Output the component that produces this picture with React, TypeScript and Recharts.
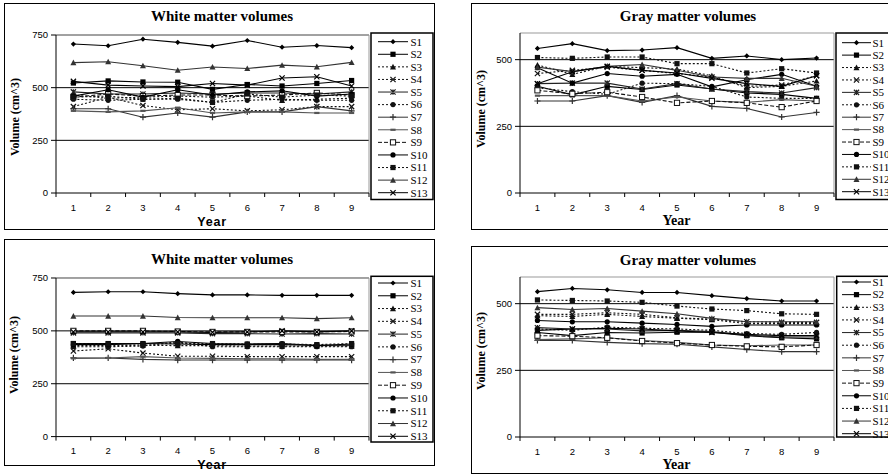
import React from 'react';
import { LineChart, Line, XAxis, YAxis, ReferenceLine } from 'recharts';

const years = [1, 2, 3, 4, 5, 6, 7, 8, 9];
const subjects = ['S1', 'S2', 'S3', 'S4', 'S5', 'S6', 'S7', 'S8', 'S9', 'S10', 'S11', 'S12', 'S13'];
const wmTicks = [0, 250, 500, 750];
const gmTicks = [0, 250, 500];

// white matter, upper panel (one row per subject, years 1..9)
const wmUpper = [
  [707, 699, 730, 715, 697, 724, 692, 700, 690],
  [522, 532, 527, 526, 492, 515, 508, 520, 534],
  [465, 450, 455, 460, 455, 460, 440, 445, 450],
  [410, 455, 415, 395, 400, 390, 395, 410, 410],
  [480, 470, 470, 475, 470, 475, 475, 470, 480],
  [445, 440, 445, 445, 430, 440, 445, 440, 440],
  [400, 400, 360, 380, 360, 385, 385, 410, 390],
  [390, 385, 390, 405, 380, 385, 385, 380, 380],
  [455, 470, 460, 465, 465, 460, 465, 475, 465],
  [460, 490, 455, 490, 465, 480, 485, 460, 470],
  [455, 460, 445, 450, 430, 470, 455, 465, 460],
  [619, 623, 604, 583, 598, 591, 607, 599, 620],
  [530, 512, 508, 505, 520, 512, 546, 552, 508],
];

// gray matter, upper panel
const gmUpper = [
  [542, 560, 534, 536, 545, 505, 514, 500, 506],
  [400, 368, 400, 388, 405, 390, 375, 370, 355],
  [480, 445, 475, 470, 465, 440, 395, 400, 420],
  [448, 460, 472, 460, 448, 435, 400, 405, 440],
  [410, 412, 412, 390, 410, 390, 380, 375, 395],
  [395, 380, 370, 412, 410, 400, 360, 355, 355],
  [345, 345, 365, 340, 365, 325, 317, 285, 302],
  [365, 365, 365, 345, 360, 345, 340, 350, 345],
  [385, 372, 378, 360, 338, 345, 338, 322, 345],
  [470, 412, 448, 438, 445, 398, 425, 445, 400],
  [508, 505, 510, 510, 485, 485, 450, 466, 450],
  [472, 455, 475, 482, 460, 435, 430, 430, 400],
  [410, 455, 475, 460, 450, 430, 410, 400, 440],
];

// white matter, lower panel
const wmLower = [
  [682, 685, 685, 676, 670, 670, 668, 668, 668],
  [440, 440, 440, 438, 435, 435, 435, 432, 432],
  [430, 430, 432, 430, 430, 428, 428, 428, 428],
  [405, 415, 395, 380, 380, 378, 378, 378, 378],
  [490, 490, 490, 490, 487, 487, 485, 487, 485],
  [425, 425, 428, 448, 425, 425, 425, 425, 425],
  [372, 372, 365, 362, 362, 362, 362, 362, 362],
  [370, 372, 378, 372, 370, 368, 368, 365, 365],
  [500, 500, 500, 497, 495, 495, 495, 495, 497],
  [435, 435, 440, 450, 440, 438, 440, 430, 438],
  [440, 438, 438, 440, 440, 438, 438, 435, 440],
  [570, 570, 570, 563, 562, 562, 562, 558, 562],
  [495, 495, 495, 495, 493, 495, 500, 495, 500],
];

// gray matter, lower panel
const gmLower = [
  [545, 557, 552, 542, 542, 530, 519, 510, 510],
  [392, 380, 392, 390, 393, 393, 380, 372, 368],
  [455, 452, 460, 452, 445, 440, 425, 425, 425],
  [460, 460, 466, 460, 447, 442, 432, 430, 430],
  [410, 405, 405, 398, 400, 395, 382, 375, 375],
  [405, 400, 412, 408, 405, 400, 388, 385, 392],
  [362, 362, 355, 350, 348, 338, 328, 320, 320],
  [365, 368, 372, 362, 355, 345, 342, 345, 345],
  [380, 378, 372, 360, 352, 345, 340, 338, 345],
  [437, 432, 432, 427, 422, 415, 420, 420, 420],
  [514, 512, 510, 505, 491, 480, 474, 462, 460],
  [485, 478, 482, 472, 462, 445, 432, 432, 432],
  [400, 405, 408, 405, 398, 392, 385, 380, 380],
];

type Shape = 'diamond' | 'square' | 'openSquare' | 'triangle' | 'x' | 'star' | 'circle' | 'plus' | 'dash';

const looks: { shape: Shape; color: string; dash?: string }[] = [
  { shape: 'diamond', color: '#000' },
  { shape: 'square', color: '#000' },
  { shape: 'triangle', color: '#111', dash: '2 2' },
  { shape: 'x', color: '#111', dash: '2 2' },
  { shape: 'star', color: '#222' },
  { shape: 'circle', color: '#111', dash: '2 2' },
  { shape: 'plus', color: '#333' },
  { shape: 'dash', color: '#555' },
  { shape: 'openSquare', color: '#111', dash: '4 2' },
  { shape: 'circle', color: '#000' },
  { shape: 'square', color: '#111', dash: '2 2' },
  { shape: 'triangle', color: '#333' },
  { shape: 'x', color: '#000' },
];

const SERIF = '"Liberation Serif", "Times New Roman", serif';
const SANS = '"Liberation Sans", Arial, sans-serif';

function toRows(values: number[][]) {
  return years.map((year, i) => {
    const row: Record<string, number> = { year };
    subjects.forEach((s, k) => {
      row[s] = values[k][i];
    });
    return row;
  });
}

function Marker({ cx, cy, shape, color }: { cx?: number; cy?: number; shape: Shape; color: string }) {
  if (cx == null || cy == null) return null;
  const s = 2.6;
  switch (shape) {
    case 'diamond':
      return <path d={`M${cx},${cy - s}L${cx + s},${cy}L${cx},${cy + s}L${cx - s},${cy}Z`} fill={color} />;
    case 'square':
      return <rect x={cx - s} y={cy - s} width={2 * s} height={2 * s} fill={color} />;
    case 'openSquare':
      return <rect x={cx - s} y={cy - s} width={2 * s} height={2 * s} fill="#fff" stroke={color} strokeWidth={1} />;
    case 'triangle':
      return <path d={`M${cx},${cy - s - 0.4}L${cx + s + 0.4},${cy + s}L${cx - s - 0.4},${cy + s}Z`} fill={color} />;
    case 'x':
      return (
        <path
          d={`M${cx - s},${cy - s}L${cx + s},${cy + s}M${cx + s},${cy - s}L${cx - s},${cy + s}`}
          stroke={color}
          strokeWidth={1.2}
        />
      );
    case 'star':
      return (
        <path
          d={`M${cx - s},${cy - s}L${cx + s},${cy + s}M${cx + s},${cy - s}L${cx - s},${cy + s}M${cx},${cy - s}L${cx},${cy + s}`}
          stroke={color}
          strokeWidth={1.2}
        />
      );
    case 'circle':
      return <circle cx={cx} cy={cy} r={s} fill={color} />;
    case 'plus':
      return (
        <path d={`M${cx - s - 0.5},${cy}L${cx + s + 0.5},${cy}M${cx},${cy - s - 0.5}L${cx},${cy + s + 0.5}`} stroke={color} strokeWidth={1.2} />
      );
    case 'dash':
      return <path d={`M${cx - s},${cy}L${cx + s},${cy}`} stroke={color} strokeWidth={2.2} />;
  }
  return null;
}

type Geo = { left: number; top: number; right: number; bottom: number };

type PanelCfg = {
  title: string;
  values: number[][];
  max: number;
  ticks: number[];
  topColor: string;
  box: Geo;
  plot: Geo;
  legend: Geo & { first: number; last: number; lineFrom: number; lineTo: number; textX: number };
  titleAt: [number, number];
  yLabelAt: [number, number];
  yearAt: [number, number];
  yearFont: string;
};

const panels: PanelCfg[] = [
  {
    title: 'White matter volumes',
    values: wmUpper,
    max: 750,
    ticks: wmTicks,
    topColor: '#444',
    box: { left: 4, top: 3, right: 435, bottom: 230 },
    plot: { left: 56, top: 34.7, right: 369, bottom: 192.7 },
    legend: { left: 371, top: 33, right: 433, bottom: 199.5, first: 41.7, last: 192.7, lineFrom: 378, lineTo: 408, textX: 410.5 },
    titleAt: [222, 15.7],
    yLabelAt: [14.5, 116.5],
    yearAt: [212, 221.5],
    yearFont: SANS,
  },
  {
    title: 'Gray matter volumes',
    values: gmUpper,
    max: 600,
    ticks: gmTicks,
    topColor: '#999',
    box: { left: 471, top: 3, right: 910, bottom: 230 },
    plot: { left: 520, top: 33.3, right: 834, bottom: 193.3 },
    legend: { left: 836, top: 33, right: 905, bottom: 199.5, first: 42.7, last: 191.7, lineFrom: 842, lineTo: 871, textX: 872.5 },
    titleAt: [688, 15.7],
    yLabelAt: [481, 108.5],
    yearAt: [676.5, 221],
    yearFont: SERIF,
  },
  {
    title: 'White matter volumes',
    values: wmLower,
    max: 750,
    ticks: wmTicks,
    topColor: '#444',
    box: { left: 4, top: 239, right: 435, bottom: 466.3 },
    plot: { left: 56, top: 277.7, right: 369, bottom: 436.3 },
    legend: { left: 371, top: 276.3, right: 433, bottom: 442, first: 283, last: 436.3, lineFrom: 378, lineTo: 408, textX: 410.5 },
    titleAt: [222, 258.7],
    yLabelAt: [13.5, 354.5],
    yearAt: [212, 464.7],
    yearFont: SANS,
  },
  {
    title: 'Gray matter volumes',
    values: gmLower,
    max: 600,
    ticks: gmTicks,
    topColor: '#999',
    box: { left: 471, top: 246.3, right: 910, bottom: 474.3 },
    plot: { left: 520, top: 277, right: 834, bottom: 437 },
    legend: { left: 836.7, top: 276.3, right: 905, bottom: 437, first: 282, last: 433.7, lineFrom: 842, lineTo: 871, textX: 872.5 },
    titleAt: [688, 259.7],
    yLabelAt: [481, 350.5],
    yearAt: [676.5, 465.3],
    yearFont: SERIF,
  },
];

function Label({
  at,
  text,
  font,
  size,
  rotate,
  spacing,
}: {
  at: [number, number];
  text: string;
  font: string;
  size: number;
  rotate?: boolean;
  spacing?: number;
}) {
  return (
    <div
      style={{
        position: 'absolute',
        left: at[0],
        top: at[1],
        transform: `translate(-50%, -50%)${rotate ? ' rotate(-90deg)' : ''}`,
        fontFamily: font,
        fontWeight: 'bold',
        fontSize: size,
        letterSpacing: spacing ?? 0,
        lineHeight: 1,
        whiteSpace: 'nowrap',
        color: '#000',
      }}
    >
      {text}
    </div>
  );
}

function Panel({ cfg }: { cfg: PanelCfg }) {
  const { box, plot, legend } = cfg;
  const plotW = plot.right - plot.left;
  const plotH = plot.bottom - plot.top;
  const step = plotW / years.length;
  const yW = 50;
  const padTop = 6;
  const axisY = padTop + plotH;
  const rows = toRows(cfg.values);
  const rowGap = (legend.last - legend.first) / (subjects.length - 1);

  const xTick = (p: any) => {
    const { x, payload } = p;
    return (
      <g>
        <line x1={x + step / 2} y1={axisY} x2={x + step / 2} y2={axisY + 4} stroke="#000" />
        {payload.value === 1 && <line x1={x - step / 2} y1={axisY} x2={x - step / 2} y2={axisY + 4} stroke="#000" />}
        <text x={x} y={axisY + 17.5} textAnchor="middle" fontSize={9.5} fontFamily={SANS} fill="#000">
          {payload.value}
        </text>
      </g>
    );
  };

  return (
    <>
      <div
        style={{
          position: 'absolute',
          left: box.left,
          top: box.top,
          width: box.right - box.left,
          height: box.bottom - box.top,
          border: '1.5px solid #000',
          boxSizing: 'border-box',
        }}
      />
      <div style={{ position: 'absolute', left: plot.left - yW, top: plot.top - padTop }}>
        <LineChart
          width={yW + plotW + 4}
          height={padTop + plotH + 30}
          data={rows}
          margin={{ top: padTop, right: 4, left: 0, bottom: 0 }}
        >
          <XAxis
            dataKey="year"
            type="number"
            domain={[0.5, 9.5]}
            ticks={years}
            interval={0}
            tickLine={false}
            tickSize={0}
            tick={xTick}
            axisLine={{ stroke: '#000' }}
            height={30}
          />
          <YAxis
            type="number"
            domain={[0, cfg.max]}
            ticks={cfg.ticks}
            interval={0}
            width={yW}
            tickSize={5}
            tickMargin={3}
            tick={{ fontSize: 9.5, fill: '#000', fontFamily: SANS }}
            tickLine={{ stroke: '#000' }}
            axisLine={{ stroke: '#000' }}
          />
          <ReferenceLine y={250} stroke="#000" />
          <ReferenceLine y={500} stroke="#000" />
          <ReferenceLine y={cfg.max} stroke={cfg.topColor} />
          <ReferenceLine x={9.5} stroke="#999" />
          {subjects.map((s, k) => (
            <Line
              key={s}
              dataKey={s}
              stroke={looks[k].color}
              strokeWidth={1.1}
              strokeDasharray={looks[k].dash}
              isAnimationActive={false}
              activeDot={false}
              dot={(p: any) => (
                <Marker key={`${s}-${p.index}`} cx={p.cx} cy={p.cy} shape={looks[k].shape} color={looks[k].color} />
              )}
            />
          ))}
        </LineChart>
      </div>
      <svg
        style={{ position: 'absolute', left: 0, top: 0, overflow: 'visible' }}
        width={888}
        height={475}
      >
        <rect
          x={legend.left}
          y={legend.top}
          width={legend.right - legend.left}
          height={legend.bottom - legend.top}
          fill="#fff"
          stroke="#000"
          strokeWidth={1.5}
        />
        {subjects.map((s, k) => {
          const y = legend.first + k * rowGap;
          const mid = (legend.lineFrom + legend.lineTo) / 2;
          return (
            <g key={s}>
              <line
                x1={legend.lineFrom}
                y1={y}
                x2={legend.lineTo}
                y2={y}
                stroke={looks[k].color}
                strokeDasharray={looks[k].dash}
              />
              <Marker cx={mid} cy={y} shape={looks[k].shape} color={looks[k].color} />
              <text x={legend.textX} y={y + 3.8} fontSize={11} fontFamily={SERIF} fill="#000">
                {s}
              </text>
            </g>
          );
        })}
      </svg>
      <Label at={cfg.titleAt} text={cfg.title} font={SERIF} size={15} />
      <Label at={cfg.yLabelAt} text="Volume (cm^3)" font={SERIF} size={12} rotate />
      {cfg.yearFont === SANS ? (
        <Label at={cfg.yearAt} text="Year" font={SANS} size={12.5} spacing={0.8} />
      ) : (
        <Label at={cfg.yearAt} text="Year" font={SERIF} size={14} />
      )}
    </>
  );
}

export default function App() {
  return (
    <div
      style={{
        position: 'fixed',
        left: 0,
        top: 0,
        width: 888,
        height: 475,
        overflow: 'hidden',
        background: '#fff',
      }}
    >
      {panels.map((cfg, i) => (
        <Panel key={i} cfg={cfg} />
      ))}
    </div>
  );
}
